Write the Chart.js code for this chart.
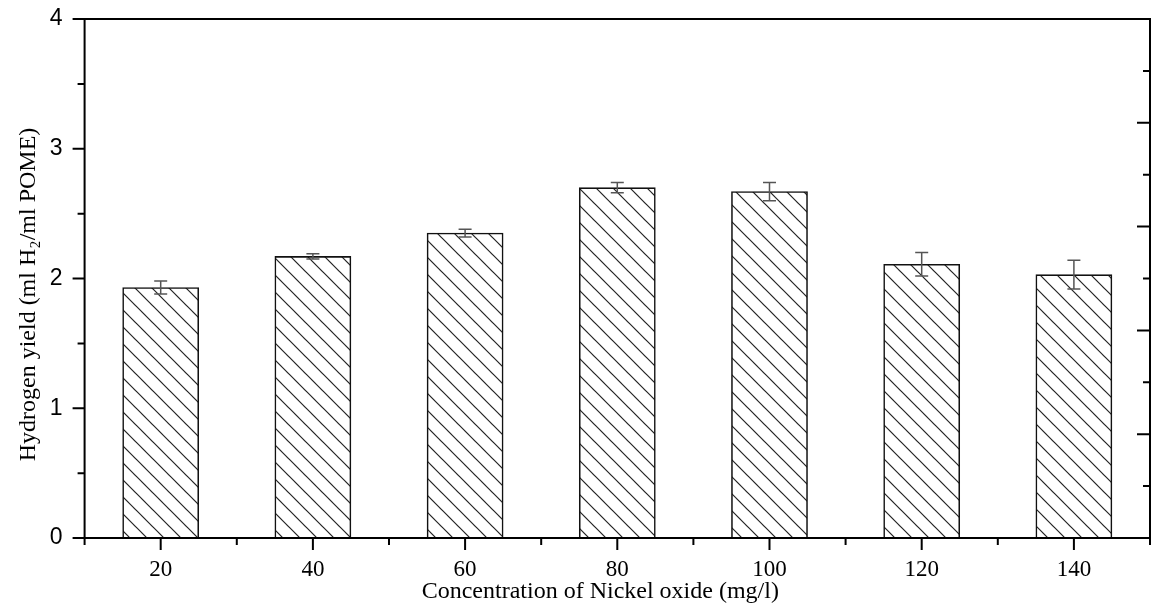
<!DOCTYPE html>
<html lang="en">
<head>
<meta charset="UTF-8" />
<title>Hydrogen yield vs Nickel oxide</title>
<style>
  html, body { margin: 0; padding: 0; background: #fff; }
  #wrap { width: 1151px; height: 610px; }
</style>
</head>
<body>
<div id="wrap"><canvas id="chart" width="1151" height="610"></canvas></div>

<script src="https://cdn.jsdelivr.net/npm/chart.js"></script>
<script>
  // data
  const concentrations = [20, 40, 60, 80, 100, 120, 140];
  const yieldMeans = [1.93, 2.17, 2.35, 2.70, 2.67, 2.11, 2.03];
  const yieldErrors = [0.05, 0.02, 0.03, 0.04, 0.07, 0.09, 0.11];

  // axis ticks
  const xMajorTicks = [20, 40, 60, 80, 100, 120, 140];
  const xMinorTicks = [10, 30, 50, 70, 90, 110, 130, 150];
  const yMajorTicks = [0, 1, 2, 3, 4];
  const yMinorTicks = [0.5, 1.5, 2.5, 3.5];
  const rightMajorTicks = [0, 1, 2, 3, 4, 5];
  const rightMinorTicks = [0.5, 1.5, 2.5, 3.5, 4.5];

  const xTitle = 'Concentration of Nickel oxide (mg/l)';
  const yTitle = 'Hydrogen yield (ml H\u2082/ml POME)';

  // diagonal hatch like the original print
  function makeHatch() {
    const s = 17;
    const c = document.createElement('canvas');
    c.width = s; c.height = s;
    const g = c.getContext('2d');
    g.fillStyle = '#fff';
    g.fillRect(0, 0, s, s);
    g.strokeStyle = '#222';
    g.lineWidth = 1.2;
    for (let k = -1; k <= 1; k++) {
      g.beginPath();
      g.moveTo(k * s - 2, -2);
      g.lineTo(k * s + s + 2, s + 2);
      g.stroke();
    }
    return g.createPattern(c, 'repeat');
  }

  const framePlugin = {
    id: 'frame',
    afterDatasetsDraw(chart) {
      const { ctx, chartArea: a, scales } = chart;
      const x = scales.x, y = scales.y, y2 = scales.y2;
      ctx.save();

      // error bars
      ctx.strokeStyle = '#555';
      ctx.lineWidth = 1.5;
      concentrations.forEach((c, i) => {
        const px = x.getPixelForValue(c);
        const top = y.getPixelForValue(yieldMeans[i] + yieldErrors[i]);
        const bot = y.getPixelForValue(yieldMeans[i] - yieldErrors[i]);
        ctx.beginPath();
        ctx.moveTo(px, top); ctx.lineTo(px, bot);
        ctx.moveTo(px - 6.5, top); ctx.lineTo(px + 6.5, top);
        ctx.moveTo(px - 6.5, bot); ctx.lineTo(px + 6.5, bot);
        ctx.stroke();
      });

      // box
      ctx.strokeStyle = '#000';
      ctx.lineWidth = 2;
      ctx.strokeRect(a.left, a.top, a.right - a.left, a.bottom - a.top);

      ctx.beginPath();
      // left ticks, outward
      yMajorTicks.forEach(v => { const p = y.getPixelForValue(v); ctx.moveTo(a.left - 12, p); ctx.lineTo(a.left, p); });
      yMinorTicks.forEach(v => { const p = y.getPixelForValue(v); ctx.moveTo(a.left - 7, p); ctx.lineTo(a.left, p); });
      // bottom ticks, outward
      xMajorTicks.forEach(v => { const p = x.getPixelForValue(v); ctx.moveTo(p, a.bottom); ctx.lineTo(p, a.bottom + 12); });
      xMinorTicks.forEach(v => { const p = x.getPixelForValue(v); ctx.moveTo(p, a.bottom); ctx.lineTo(p, a.bottom + 7); });
      // right ticks, inward
      rightMajorTicks.forEach(v => { const p = y2.getPixelForValue(v); ctx.moveTo(a.right - 13, p); ctx.lineTo(a.right, p); });
      rightMinorTicks.forEach(v => { const p = y2.getPixelForValue(v); ctx.moveTo(a.right - 7, p); ctx.lineTo(a.right, p); });
      ctx.stroke();

      // axis titles (drawn here so they sit where the original has them)
      ctx.fillStyle = '#000';
      ctx.font = '24px "Liberation Serif"';
      ctx.textAlign = 'center';
      ctx.textBaseline = 'middle';
      ctx.fillText(xTitle, (a.left + a.right) / 2 - 17, a.bottom + 54);
      ctx.translate(a.left - 56, (a.top + a.bottom) / 2 + 16);
      ctx.rotate(-Math.PI / 2);
      ctx.fillText(yTitle, 0, 0);
      ctx.restore();
    }
  };

  const ctx = document.getElementById('chart').getContext('2d');
  new Chart(ctx, {
    type: 'bar',
    data: {
      datasets: [{
        data: concentrations.map((c, i) => ({ x: c, y: yieldMeans[i] })),
        backgroundColor: makeHatch(),
        borderColor: '#111',
        borderWidth: 1.6,
        barPercentage: 1,
        categoryPercentage: 1
      }]
    },
    options: {
      responsive: false,
      animation: false,
      layout: { padding: { left: 49.8, top: 19, right: 1, bottom: 29 } },
      plugins: { legend: { display: false }, tooltip: { enabled: false } },
      scales: {
        x: {
          type: 'linear',
          min: 10,
          max: 150,
          offset: false,
          grid: { display: false, drawTicks: true, tickLength: 20 },
          border: { display: false },
          ticks: {
            stepSize: 10,
            autoSkip: false,
            maxRotation: 0,
            padding: 0,
            color: '#000',
            font: { family: 'Liberation Serif', size: 23, lineHeight: 1 },
            callback: v => (xMajorTicks.includes(v) ? String(v) : '')
          }
        },
        y: {
          min: 0,
          max: 4,
          grid: { display: false, drawTicks: true, tickLength: 22 },
          border: { display: false },
          ticks: {
            stepSize: 1,
            padding: 0,
            color: '#000',
            font: { family: 'Liberation Sans', size: 23, lineHeight: 1 }
          }
        },
        y2: {
          position: 'right',
          min: 0,
          max: 5,
          display: false
        }
      }
    },
    plugins: [framePlugin]
  });
</script>
</body>
</html>
